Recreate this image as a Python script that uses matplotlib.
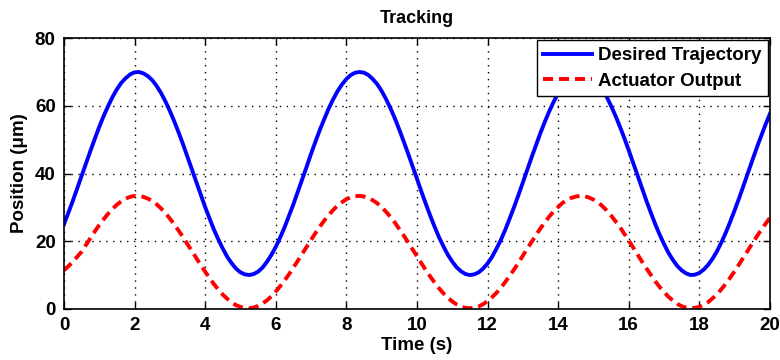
import matplotlib
matplotlib.use("Agg")
import matplotlib.pyplot as plt

# time samples (s), read every 0.125 s (one row = 1 s)
t = [i * 0.125 for i in range(161)]

desired = [
    25.0, 28.4, 31.9, 35.6, 39.3, 43.0, 46.7, 50.3,
    53.8, 57.0, 59.9, 62.6, 64.9, 66.8, 68.2, 69.3,
    69.9, 70.0, 69.6, 68.8, 67.6, 65.9, 63.8, 61.3,
    58.5, 55.4, 52.1, 48.6, 44.9, 41.2, 37.5, 33.8,
    30.1, 26.7, 23.4, 20.5, 17.8, 15.4, 13.5, 11.9,
    10.8, 10.2, 10.0, 10.3, 11.0, 12.2, 13.9, 15.9,
    18.3, 21.1, 24.1, 27.5, 30.9, 34.6, 38.3, 42.0,
    45.8, 49.4, 52.9, 56.1, 59.2, 61.9, 64.3, 66.3,
    67.9, 69.1, 69.8, 70.0, 69.8, 69.1, 67.9, 66.4,
    64.4, 62.0, 59.3, 56.3, 53.0, 49.5, 45.9, 42.2,
    38.5, 34.7, 31.1, 27.6, 24.3, 21.2, 18.5, 16.0,
    14.0, 12.3, 11.1, 10.3, 10.0, 10.2, 10.8, 11.9,
    13.4, 15.3, 17.7, 20.3, 23.3, 26.6, 30.0, 33.6,
    37.3, 41.1, 44.8, 48.4, 52.0, 55.3, 58.4, 61.2,
    63.7, 65.8, 67.5, 68.8, 69.6, 70.0, 69.9, 69.3,
    68.3, 66.8, 64.9, 62.7, 60.0, 57.1, 53.9, 50.5,
    46.9, 43.2, 39.5, 35.7, 32.0, 28.5, 25.1, 22.0,
    19.2, 16.6, 14.5, 12.7, 11.4, 10.5, 10.0, 10.1,
    10.6, 11.6, 13.0, 14.8, 17.0, 19.6, 22.5, 25.7,
    29.1, 32.6, 36.3, 40.1, 43.8, 47.5, 51.0, 54.4,
    57.6,
]

actuator = [
    11.4, 12.6, 13.9, 15.4, 16.9, 18.9, 20.9, 22.9,
    24.8, 26.5, 28.1, 29.5, 30.8, 31.8, 32.6, 33.1,
    33.4, 33.4, 33.1, 32.6, 31.9, 30.9, 29.7, 28.3,
    26.7, 25.0, 23.1, 21.2, 19.1, 17.1, 15.0, 13.0,
    11.0, 9.1, 7.3, 5.7, 4.2, 3.0, 1.9, 1.1,
    0.6, 0.3, 0.2, 0.4, 0.9, 1.6, 2.5, 3.7,
    5.1, 6.7, 8.4, 10.2, 12.2, 14.2, 16.3, 18.3,
    20.4, 22.4, 24.3, 26.1, 27.7, 29.2, 30.5, 31.5,
    32.4, 33.0, 33.3, 33.4, 33.2, 32.8, 32.1, 31.2,
    30.1, 28.7, 27.2, 25.5, 23.6, 21.7, 19.7, 17.6,
    15.6, 13.5, 11.5, 9.6, 7.8, 6.1, 4.6, 3.3,
    2.2, 1.3, 0.7, 0.3, 0.2, 0.3, 0.7, 1.4,
    2.3, 3.4, 4.7, 6.2, 7.9, 9.7, 11.6, 13.6,
    15.7, 17.8, 19.8, 21.8, 23.8, 25.6, 27.3, 28.8,
    30.1, 31.3, 32.2, 32.8, 33.2, 33.4, 33.3, 32.9,
    32.3, 31.5, 30.4, 29.1, 27.6, 25.9, 24.2, 22.2,
    20.2, 18.2, 16.1, 14.0, 12.0, 10.1, 8.2, 6.5,
    5.0, 3.6, 2.5, 1.5, 0.8, 0.4, 0.2, 0.3,
    0.6, 1.2, 2.0, 3.1, 4.3, 5.8, 7.4, 9.2,
    11.1, 13.1, 15.2, 17.2, 19.3, 21.3, 23.3, 25.1,
    26.9,
]

xticks = [0, 2, 4, 6, 8, 10, 12, 14, 16, 18, 20]
yticks = [0, 20, 40, 60, 80]

plt.rcParams['font.family'] = ['Liberation Sans', 'DejaVu Sans']
plt.rcParams['font.weight'] = 'bold'

fig = plt.figure(figsize=(7.8, 3.6), dpi=100)
ax = fig.add_axes([0.082, 0.142, 0.905, 0.752])

ax.plot(t, desired, color='#0000ff', lw=2.8, solid_joinstyle='round',
        label='Desired Trajectory')
ax.plot(t, actuator, color='#ff0000', lw=2.8, ls=(0, (2.6, 1.5)), dash_joinstyle='round',
        label='Actuator Output')

ax.set_xlim(0, 20)
ax.set_ylim(0, 80)
ax.set_xticks(xticks)
ax.set_yticks(yticks)
ax.tick_params(direction='in', top=True, right=True, labelsize=13.5, length=5, width=1, pad=6)
for lab in ax.get_xticklabels() + ax.get_yticklabels():
    lab.set_fontweight('bold')
ax.grid(True, color='black', ls=(0, (1, 4)), lw=1)
for s in ax.spines.values():
    s.set_linewidth(1.2)

ax.set_title('Tracking', fontsize=13, fontweight='bold', pad=11)
ax.set_xlabel('Time (s)', fontsize=13.5, fontweight='bold', labelpad=2)
ax.set_ylabel('Position (\u03bcm)', fontsize=13.5, fontweight='bold', labelpad=5)

leg = ax.legend(loc='upper right', fontsize=13.5, handlelength=2.6, borderaxespad=0.12,
                fancybox=False, framealpha=1, edgecolor='black', borderpad=0.35,
                labelspacing=0.45, handletextpad=0.3)
leg.get_frame().set_linewidth(1)

fig.savefig('out.png', dpi=100)
